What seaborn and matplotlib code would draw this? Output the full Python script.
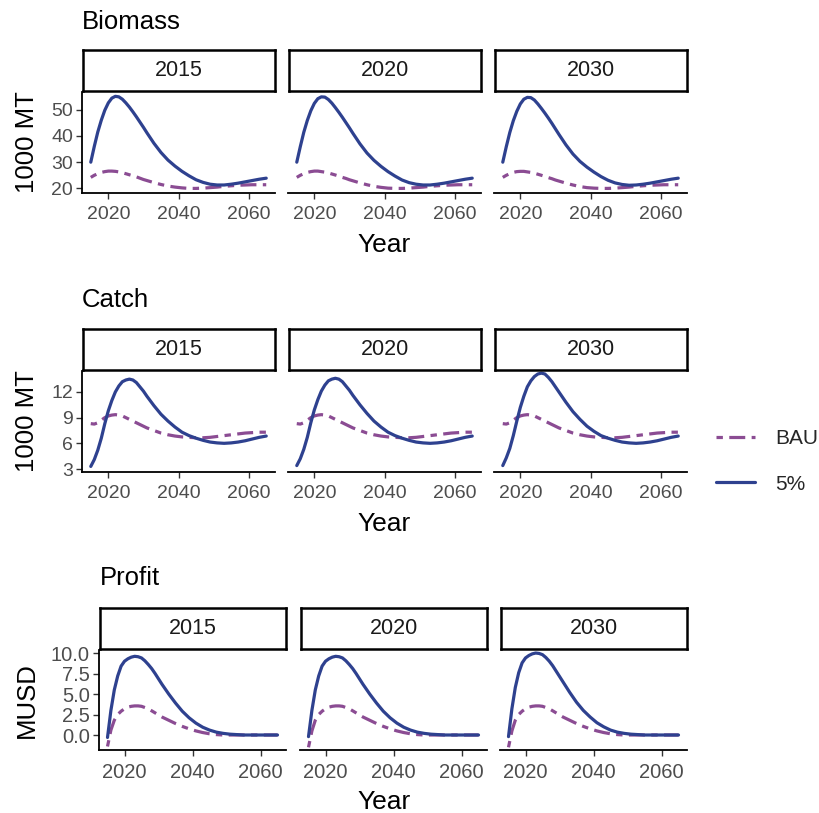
import pandas as pd
import matplotlib.pyplot as plt
import seaborn as sns
from matplotlib.lines import Line2D

# ---- data (yearly to 2031, then every 2 years) ----
years = list(range(2015, 2032)) + list(range(2033, 2066, 2))
facets = ["2015", "2020", "2030"]
scenarios = ["BAU", "5%"]

biomass_bau_2015 = [24.2, 25.0, 25.6, 26.1, 26.4, 26.6, 26.6, 26.5, 26.3, 26.0, 25.6, 25.2, 24.8,
                    24.4, 23.9, 23.4, 23.0,
                    22.2, 21.5, 20.9, 20.5, 20.2, 20.0, 20.0, 20.1, 20.3, 20.5, 20.8, 21.0,
                    21.2, 21.3, 21.4, 21.4, 21.4]
biomass_5p_2015 = [30.0, 36.0, 41.5, 46.0, 49.8, 52.6, 54.4, 55.1, 54.9, 54.0, 52.6, 51.0, 49.2,
                   47.3, 45.3, 43.3, 41.2,
                   37.2, 33.7, 30.8, 28.5, 26.5, 24.8, 23.3, 22.3, 21.6, 21.3, 21.3, 21.6,
                   22.0, 22.5, 23.0, 23.5, 23.9]
biomass_bau_2020 = [24.2, 25.0, 25.6, 26.1, 26.4, 26.6, 26.6, 26.4, 26.2, 25.9, 25.5, 25.1, 24.7,
                    24.2, 23.8, 23.3, 22.9,
                    22.1, 21.4, 20.8, 20.4, 20.1, 20.0, 20.0, 20.1, 20.3, 20.5, 20.8, 21.0,
                    21.2, 21.3, 21.4, 21.4, 21.4]
biomass_5p_2020 = [30.0, 35.9, 41.4, 45.9, 49.6, 52.4, 54.2, 54.9, 54.8, 53.9, 52.5, 50.8, 49.0,
                   47.1, 45.1, 43.1, 41.0,
                   37.0, 33.5, 30.7, 28.4, 26.4, 24.7, 23.2, 22.2, 21.6, 21.3, 21.3, 21.6,
                   22.0, 22.5, 23.0, 23.5, 23.9]
biomass_bau_2030 = [24.2, 25.0, 25.6, 26.1, 26.4, 26.5, 26.5, 26.3, 26.1, 25.8, 25.4, 25.0, 24.6,
                    24.1, 23.7, 23.2, 22.8,
                    22.0, 21.3, 20.7, 20.3, 20.1, 20.0, 20.0, 20.1, 20.3, 20.5, 20.8, 21.0,
                    21.2, 21.3, 21.4, 21.4, 21.4]
biomass_5p_2030 = [30.0, 35.9, 41.3, 45.8, 49.4, 52.2, 54.0, 54.7, 54.6, 53.7, 52.2, 50.5, 48.7,
                   46.8, 44.8, 42.7, 40.6,
                   36.6, 33.1, 30.3, 28.1, 26.2, 24.5, 23.1, 22.1, 21.5, 21.2, 21.3, 21.6,
                   22.0, 22.5, 23.0, 23.5, 23.9]

catch_bau_2015 = [8.3, 8.25, 8.4, 8.7, 9.0, 9.2, 9.3, 9.35, 9.3, 9.2, 9.0, 8.8, 8.6,
                  8.4, 8.2, 8.0, 7.8,
                  7.5, 7.2, 7.0, 6.85, 6.75, 6.7, 6.65, 6.65, 6.7, 6.8, 6.9, 7.0,
                  7.1, 7.2, 7.25, 7.3, 7.3]
catch_5p_2015 = [3.3, 4.1, 5.2, 6.6, 8.3, 9.8, 11.0, 12.0, 12.7, 13.2, 13.4, 13.5, 13.4,
                 13.1, 12.6, 12.1, 11.5,
                 10.4, 9.4, 8.6, 7.9, 7.3, 6.9, 6.6, 6.35, 6.15, 6.05, 6.0, 6.05,
                 6.15, 6.3, 6.5, 6.7, 6.85]
catch_bau_2020 = [8.3, 8.25, 8.4, 8.7, 9.0, 9.2, 9.3, 9.35, 9.3, 9.2, 9.0, 8.8, 8.6,
                  8.4, 8.2, 8.0, 7.8,
                  7.5, 7.2, 7.0, 6.85, 6.75, 6.7, 6.65, 6.65, 6.7, 6.8, 6.9, 7.0,
                  7.1, 7.2, 7.25, 7.3, 7.3]
catch_5p_2020 = [3.4, 4.2, 5.3, 6.7, 8.4, 9.9, 11.1, 12.1, 12.8, 13.3, 13.5, 13.6, 13.5,
                 13.2, 12.7, 12.2, 11.6,
                 10.5, 9.5, 8.6, 7.9, 7.3, 6.9, 6.6, 6.35, 6.15, 6.05, 6.0, 6.05,
                 6.15, 6.3, 6.5, 6.7, 6.85]
catch_bau_2030 = [8.3, 8.25, 8.4, 8.7, 9.0, 9.2, 9.3, 9.35, 9.3, 9.2, 9.0, 8.8, 8.6,
                  8.4, 8.2, 8.0, 7.8,
                  7.5, 7.2, 7.0, 6.85, 6.75, 6.7, 6.65, 6.65, 6.7, 6.8, 6.9, 7.0,
                  7.1, 7.2, 7.25, 7.3, 7.3]
catch_5p_2030 = [3.4, 4.3, 5.4, 6.9, 8.6, 10.2, 11.5, 12.6, 13.3, 13.8, 14.1, 14.2, 14.1,
                 13.7, 13.2, 12.6, 12.0,
                 10.8, 9.7, 8.8, 8.0, 7.4, 6.9, 6.6, 6.35, 6.15, 6.05, 6.0, 6.05,
                 6.15, 6.3, 6.5, 6.7, 6.85]

profit_bau_2015 = [-1.4, 0.6, 1.8, 2.5, 2.9, 3.2, 3.4, 3.5, 3.55, 3.55, 3.5, 3.35, 3.2,
                   2.95, 2.7, 2.45, 2.2,
                   1.8, 1.4, 1.05, 0.75, 0.5, 0.3, 0.15, 0.05, 0.0, 0.0, 0.0, 0.0,
                   0.0, 0.0, 0.0, 0.0, 0.0]
profit_5p_2015 = [-0.3, 3.0, 5.5, 7.2, 8.4, 9.0, 9.3, 9.5, 9.6, 9.55, 9.4, 9.05, 8.6,
                  8.1, 7.5, 6.85, 6.2,
                  5.0, 3.9, 2.9, 2.1, 1.45, 0.95, 0.6, 0.35, 0.2, 0.1, 0.05, 0.0,
                  0.0, 0.0, 0.0, 0.0, 0.0]
profit_bau_2020 = [-1.5, 0.5, 1.8, 2.5, 2.9, 3.2, 3.4, 3.5, 3.55, 3.55, 3.5, 3.35, 3.2,
                   2.95, 2.7, 2.45, 2.2,
                   1.8, 1.4, 1.05, 0.75, 0.5, 0.3, 0.15, 0.05, 0.0, 0.0, 0.0, 0.0,
                   0.0, 0.0, 0.0, 0.0, 0.0]
profit_5p_2020 = [-0.2, 3.0, 5.5, 7.2, 8.4, 9.0, 9.3, 9.5, 9.6, 9.55, 9.4, 9.05, 8.6,
                  8.1, 7.5, 6.85, 6.2,
                  5.0, 3.9, 2.9, 2.1, 1.45, 0.95, 0.6, 0.35, 0.2, 0.1, 0.05, 0.0,
                  0.0, 0.0, 0.0, 0.0, 0.0]
profit_bau_2030 = [-1.5, 0.5, 1.8, 2.5, 2.9, 3.2, 3.4, 3.5, 3.55, 3.55, 3.5, 3.35, 3.2,
                   2.95, 2.7, 2.45, 2.2,
                   1.8, 1.4, 1.05, 0.75, 0.5, 0.3, 0.15, 0.05, 0.0, 0.0, 0.0, 0.0,
                   0.0, 0.0, 0.0, 0.0, 0.0]
profit_5p_2030 = [-0.2, 3.2, 5.8, 7.6, 8.8, 9.4, 9.7, 9.9, 10.0, 9.95, 9.8, 9.45, 9.0,
                  8.45, 7.8, 7.15, 6.5,
                  5.2, 4.0, 3.0, 2.2, 1.5, 1.0, 0.6, 0.35, 0.2, 0.1, 0.05, 0.0,
                  0.0, 0.0, 0.0, 0.0, 0.0]

series = {
    "Biomass": {"2015": (biomass_bau_2015, biomass_5p_2015),
                "2020": (biomass_bau_2020, biomass_5p_2020),
                "2030": (biomass_bau_2030, biomass_5p_2030)},
    "Catch": {"2015": (catch_bau_2015, catch_5p_2015),
              "2020": (catch_bau_2020, catch_5p_2020),
              "2030": (catch_bau_2030, catch_5p_2030)},
    "Profit": {"2015": (profit_bau_2015, profit_5p_2015),
               "2020": (profit_bau_2020, profit_5p_2020),
               "2030": (profit_bau_2030, profit_5p_2030)},
}

rows = []
for metric, by_facet in series.items():
    for facet, (bau, p5) in by_facet.items():
        for scen, vals in zip(scenarios, (bau, p5)):
            for yr, v in zip(years, vals):
                rows.append({"metric": metric, "facet": facet, "scenario": scen,
                             "year": yr, "value": v})
df = pd.DataFrame(rows)

# ---- style ----
sns.set_theme(style="white")
plt.rcParams["font.family"] = ["Liberation Sans", "DejaVu Sans"]

palette = {"BAU": "#8B4C93", "5%": "#2E418F"}
dashes = {"BAU": (2.0, 2.0, 5.0, 2.0), "5%": ""}

W, H = 819, 813
fig = plt.figure(figsize=(W / 100, H / 100), dpi=100)


def px_axes(x0, y0, x1, y1):
    # pixel box (top-left origin) -> figure axes
    return fig.add_axes([x0 / W, 1 - y1 / H, (x1 - x0) / W, (y1 - y0) / H])


layout = {
    "Biomass": dict(top=92, bottom=193, lefts=[82, 288, 494], width=193,
                    ylim=(18.25, 56.75), yticks=[20, 30, 40, 50], ylabel="1000 MT",
                    title_y=29, title_x=82, fmt="{:g}", tsize=14),
    "Catch": dict(top=371, bottom=472, lefts=[82, 288, 494], width=193,
                  ylim=(2.65, 14.45), yticks=[3, 6, 9, 12], ylabel="1000 MT",
                  title_y=307, title_x=82, fmt="{:g}", tsize=14),
    "Profit": dict(top=650, bottom=750, lefts=[99, 300, 500], width=187,
                   ylim=(-1.83, 10.37), yticks=[0, 2.5, 5, 7.5, 10], ylabel="MUSD",
                   title_y=585, title_x=100, fmt="{:.1f}", tsize=14.5),
}

tick_col = "#4D4D4D"

for metric, L in layout.items():
    for i, facet in enumerate(facets):
        x0 = L["lefts"][i]
        x1 = x0 + L["width"]
        ax = px_axes(x0, L["top"], x1, L["bottom"])
        sub = df[(df.metric == metric) & (df.facet == facet)]
        sns.lineplot(data=sub, x="year", y="value", hue="scenario", style="scenario",
                     hue_order=scenarios, style_order=scenarios,
                     palette=palette, dashes=dashes, linewidth=2.3,
                     legend=False, ax=ax)
        ax.set_xlim(2012.5, 2067.5)
        ax.set_ylim(*L["ylim"])
        ax.set_xticks([2020, 2040, 2060])
        ax.set_xticklabels(["2020", "2040", "2060"])
        ax.set_yticks(L["yticks"])
        if i == 0:
            ax.set_yticklabels([L["fmt"].format(t) for t in L["yticks"]])
        else:
            ax.set_yticks([])
            ax.spines["left"].set_visible(False)
        ax.set_xlabel("")
        ax.set_ylabel("")
        for s in ["top", "right"]:
            ax.spines[s].set_visible(False)
        for s in ["left", "bottom"]:
            ax.spines[s].set_color("black")
            ax.spines[s].set_linewidth(1.3)
        ax.tick_params(axis="both", direction="out", length=4.5, width=1.0,
                       color="#333333", labelcolor=tick_col, labelsize=L["tsize"],
                       bottom=True, left=(i == 0))
        ax.tick_params(axis="x", pad=5)
        ax.tick_params(axis="y", pad=2)
        ax.patch.set_alpha(0)

        # facet strip
        sax = px_axes(x0 + 1, L["top"] - 42, x1, L["top"] - 1)
        sax.set_xticks([])
        sax.set_yticks([])
        for s in sax.spines.values():
            s.set_color("black")
            s.set_linewidth(1.8)
        sax.text(0.5, 0.5, facet, ha="center", va="center", fontsize=15.5,
                 color="#1A1A1A", transform=sax.transAxes)

    # panel group title, axis titles
    fig.text(L["title_x"] / W, 1 - L["title_y"] / H, metric, fontsize=18.5,
             ha="left", va="baseline", color="black")
    fig.text(384 / W, 1 - (L["bottom"] + 59) / H, "Year", fontsize=19,
             ha="center", va="baseline", color="black")
    fig.text(27 / W, 1 - ((L["top"] + L["bottom"]) / 2) / H, L["ylabel"], fontsize=18.5,
             rotation=90, ha="center", va="center", color="black")

handles = [Line2D([], [], color=palette[s], linewidth=2.3) for s in scenarios]
handles[0].set_dashes(dashes["BAU"])
fig.legend(handles, scenarios, loc="center left", bbox_to_anchor=(716 / W, 1 - 461.5 / H),
           frameon=False, fontsize=15, handlelength=1.85, handletextpad=1.0,
           labelspacing=1.25, borderpad=0, borderaxespad=0)

fig.savefig("out.png", dpi=100)
plt.close(fig)
